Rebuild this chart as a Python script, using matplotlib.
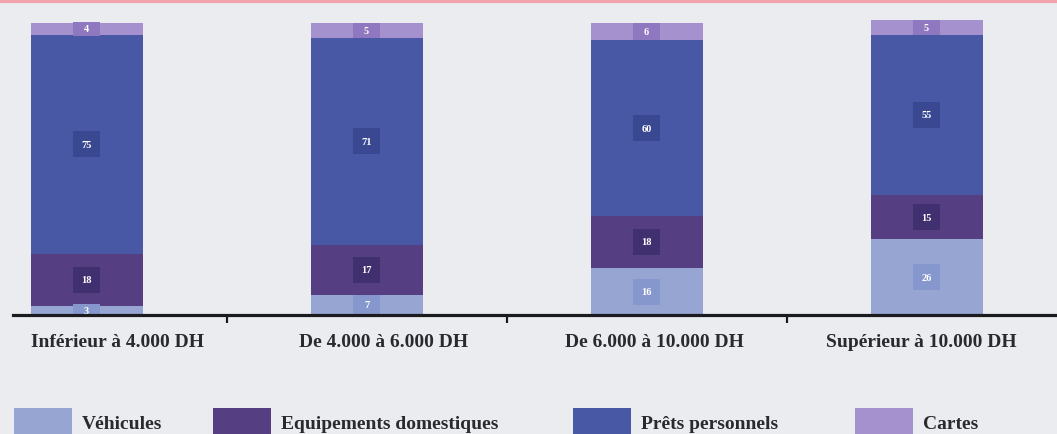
import matplotlib.pyplot as plt
from matplotlib.patches import Rectangle
import numpy as np

# data (%)
categories = ["Inférieur à 4.000 DH", "De 4.000 à 6.000 DH",
              "De 6.000 à 10.000 DH", "Supérieur à 10.000 DH"]
series_names = ["Véhicules", "Equipements domestiques", "Prêts personnels", "Cartes"]
vehicules = [3, 7, 16, 26]
equipements = [18, 17, 18, 15]
prets = [75, 71, 60, 55]
cartes = [4, 5, 6, 5]

bar_colors = ["#96a5d2", "#553e82", "#4858a5", "#a591cd"]
box_colors = ["#8597cc", "#41306f", "#3a4892", "#9078c0"]
bg = "#eaecef"

W, H = 1057, 435
fig = plt.figure(figsize=(W / 100, H / 100), dpi=100, facecolor=bg)
serif = ["Liberation Serif", "DejaVu Serif"]

# pink rule across the top of the scan
fig.add_artist(plt.Line2D([0, 1], [1 - 1.5 / H, 1 - 1.5 / H], color="#f2a3ad", lw=3))

ax = fig.add_axes([13 / W, (H - 316) / H, 1044 / W, 295 / H])
ax.set_facecolor(bg)
ax.set_xlim(-0.2625, 3.466)
ax.set_ylim(0, 101)

x = np.arange(len(categories))
bw = 0.40
bottom = np.zeros(len(categories))
px_per_unit = 295 / 101
for vals, col, bcol in zip([vehicules, equipements, prets, cartes], bar_colors, box_colors):
    vals = np.array(vals, dtype=float)
    ax.bar(x, vals, bw, bottom=bottom, color=col, edgecolor="none", zorder=2)
    for xi, b, v in zip(x, bottom, vals):
        # small darker square behind each value
        bh = min(26, max(14, v * px_per_unit)) / px_per_unit
        cy = b + v / 2
        ax.add_patch(Rectangle((xi - 0.048, cy - bh / 2), 0.096, bh,
                               facecolor=bcol, edgecolor="none", zorder=3))
        ax.text(xi, cy, f"{int(v)}", ha="center", va="center", color="white",
                fontsize=7.5, family=serif, fontweight="bold", zorder=4)
    bottom += vals

for s in ["top", "left", "right"]:
    ax.spines[s].set_visible(False)
ax.spines["bottom"].set_linewidth(2.3)
ax.spines["bottom"].set_color("#1b1b1f")
ax.spines["bottom"].set_zorder(5)
ax.set_yticks([])
ax.set_xticks([0.5, 1.5, 2.5])
ax.set_xticklabels([])
ax.tick_params(axis="x", direction="out", length=6, width=1.6, color="#1b1b1f")

# category labels under the axis
label_dx = [0.11, 0.06, 0.03, -0.02]
for xi, lab, dx in zip(x, categories, label_dx):
    ax.text(xi + dx, -(347 - 316) / px_per_unit, lab, ha="center", va="baseline",
            fontsize=14, family=serif, fontweight="bold", color="#2a2a2e",
            clip_on=False)

# legend along the bottom
leg_x = [14, 213, 573, 855]
for lx, name, col in zip(leg_x, series_names, bar_colors):
    fig.add_artist(Rectangle((lx / W, 0), 58 / W, 26 / H, transform=fig.transFigure,
                             facecolor=col, edgecolor="none"))
    fig.text((lx + 68) / W, (H - 429) / H, name, ha="left", va="baseline",
             fontsize=14, family=serif, fontweight="bold", color="#2a2a2e")

fig.savefig("out.png", dpi=100, facecolor=bg)
